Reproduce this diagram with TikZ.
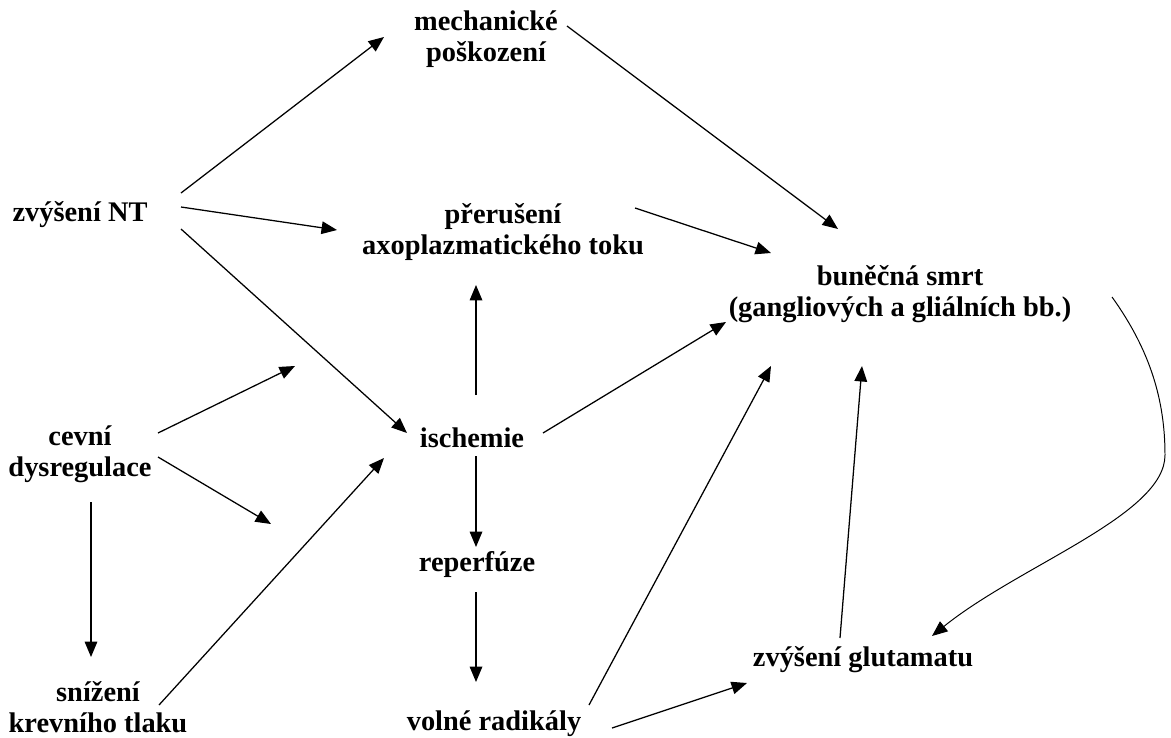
\documentclass[tikz,border=0pt]{standalone}
\usepackage{fontspec}
\setmainfont{Liberation Serif}
\usetikzlibrary{arrows.meta}

\tikzset{
	lbl/.style={font=\bfseries\fontsize{20.2}{22}\selectfont, align=center, inner sep=0pt},
	arr/.style={line width=.9pt, -{Triangle[length=11pt,width=9pt]}},
	curvearr/.style={line width=.7pt, -{Triangle[length=11pt,width=9pt]}}
}

\begin{document}
\begin{tikzpicture}[x=.025cm, y=-.025cm]
	\useasboundingbox (0,0) rectangle (1171,737);
	% causes and consequences
	\node[lbl] (mech) at (486,39) {mechanické\\poškození};
	\node[lbl] (zvys) at (80,215) {zvýšení NT};
	\node[lbl] (prer) at (503,232) {přerušení\\axoplazmatického toku};
	\node[lbl] (bun) at (900,294) {buněčná smrt\\(gangliových a gliálních bb.)};
	\node[lbl] (cevni) at (80,454) {cevní\\dysregulace};
	\node[lbl] (isch) at (472,438) {ischemie};
	\node[lbl] (reperf) at (477,565) {reperfúze};
	\node[lbl] (volne) at (494,724) {volné radikály};
	\node[lbl] (sniz) at (98,707) {snížení\\krevního tlaku};
	\node[lbl] (glut) at (863,660) {zvýšení glutamatu};
	\coordinate (c1) at (295,366);
	\coordinate (c2) at (271,524);
	% arrows
	\draw[arr] ([shift={(101,-22)}]zvys.center) -- ([shift={(-102,-2)}]mech.center);
	\draw[arr] ([shift={(101,-8)}]zvys.center) -- ([shift={(-166,-2)}]prer.center);
	\draw[arr] ([shift={(101,14)}]zvys.center) -- ([shift={(-65,-5)}]isch.center);
	\draw[arr] ([shift={(81,-13)}]mech.center) -- ([shift={(-62,-65)}]bun.center);
	\draw[arr] ([shift={(132,-24)}]prer.center) -- ([shift={(-129,-41)}]bun.center);
	\draw[arr] ([shift={(4,-43)}]isch.center) -- ([shift={(-27,53)}]prer.center);
	\draw[arr] ([shift={(71,-5)}]isch.center) -- ([shift={(-174,28)}]bun.center);
	\draw[arr] ([shift={(78,-21)}]cevni.center) -- (c1);
	\draw[arr] ([shift={(78,3)}]cevni.center) -- (c2);
	\draw[arr] ([shift={(11,48)}]cevni.center) -- ([shift={(-7,-50)}]sniz.center);
	\draw[arr] ([shift={(61,-2)}]sniz.center) -- ([shift={(-88,20)}]isch.center);
	\draw[arr] ([shift={(4,18)}]isch.center) -- ([shift={(-1,-18)}]reperf.center);
	\draw[arr] ([shift={(-1,27)}]reperf.center) -- ([shift={(-18,-42)}]volne.center);
	\draw[arr] ([shift={(95,-19)}]volne.center) -- ([shift={(-129,72)}]bun.center);
	\draw[arr] ([shift={(118,4)}]volne.center) -- ([shift={(-116,23)}]glut.center);
	\draw[arr] ([shift={(-23,-22)}]glut.center) -- ([shift={(-38,72)}]bun.center);
	\draw[curvearr] ([shift={(212,3)}]bun.center) .. controls (1150,350) and (1165,400) .. (1165,455)
		.. controls (1165,515) and (1020,565) .. ([shift={(69,-24)}]glut.center);
\end{tikzpicture}
\end{document}
